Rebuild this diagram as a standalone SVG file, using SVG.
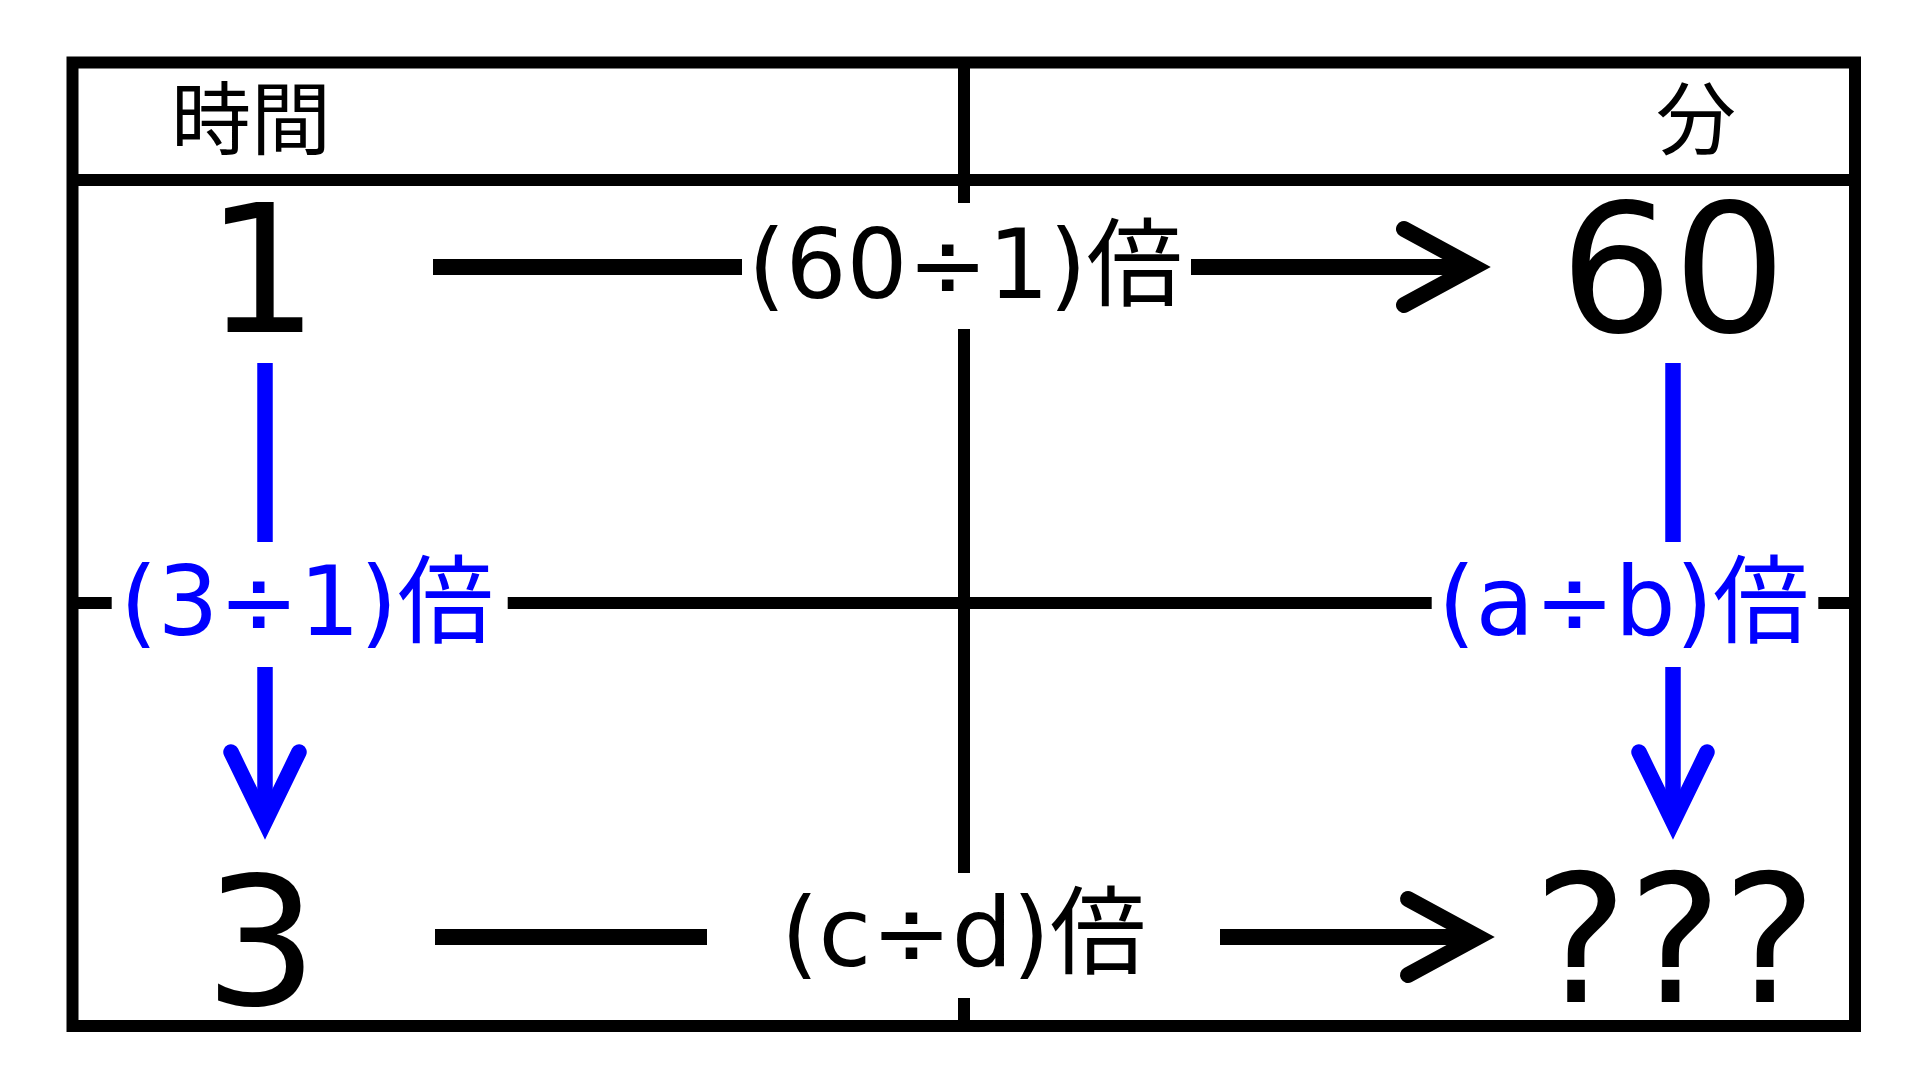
<svg xmlns="http://www.w3.org/2000/svg" width="1920" height="1080" viewBox="0 0 1920 1080">
<style>
.grid{stroke:#000;stroke-width:12;fill:none;stroke-linecap:butt}
.blk{stroke:#000;stroke-width:16;fill:none}
.blu{stroke:#0000FF;stroke-width:15.5;fill:none}
.head{stroke-linecap:round;stroke-linejoin:miter;stroke-miterlimit:10}
.t{font-family:"DejaVu Sans","Noto Sans CJK JP",sans-serif}
.cjk{font-family:"Noto Sans CJK JP","DejaVu Sans",sans-serif}
.big{font-size:178px;text-anchor:middle;fill:#000}
.lab{font-size:96px}
.hd{font-size:80px;fill:#000}
</style>
<rect width="1920" height="1080" fill="#fff"/>
<g id="table">
<rect class="grid" x="72.5" y="62.5" width="1782.5" height="963.5"/>
<line class="grid" x1="72.5" y1="180" x2="1855" y2="180"/>
<line class="grid" x1="964" y1="62.5" x2="964" y2="203"/>
<line class="grid" x1="964" y1="329" x2="964" y2="873"/>
<line class="grid" x1="964" y1="998" x2="964" y2="1026"/>
<line class="grid" x1="72.5" y1="603" x2="111.7" y2="603"/>
<line class="grid" x1="507.7" y1="603" x2="1431.7" y2="603"/>
<line class="grid" x1="1818.3" y1="603" x2="1855" y2="603"/>
</g>
<g id="header-time"><text class="cjk hd" x="171" y="148">時間</text></g>
<g id="header-min"><text class="cjk hd" x="1696" y="148" text-anchor="middle">分</text></g>
<g id="node-1"><text class="t big" x="262" y="332">1</text></g>
<g id="node-60"><text class="t big" x="1673" y="331">60</text></g>
<g id="node-3"><text class="t big" x="261" y="1004">3</text></g>
<g id="node-q"><text class="t big" x="1675" y="1002">???</text></g>
<g id="connectors">
<g id="edge-top">
<line class="blk" x1="433" y1="267" x2="742" y2="267"/>
<text class="t lab" x="748" y="298" fill="#000">(60÷1)倍</text>
<line class="blk" x1="1191" y1="267" x2="1470" y2="267"/>
<polyline class="blk head" points="1404,229 1474,267 1404,305"/>
</g>
<g id="edge-bottom">
<line class="blk" x1="435" y1="937" x2="707" y2="937"/>
<text class="t lab" x="781" y="966" fill="#000">(c÷d)倍</text>
<line class="blk" x1="1220" y1="937" x2="1474" y2="937"/>
<polyline class="blk head" points="1408,899 1478,937 1408,975"/>
</g>
<g id="edge-left">
<line class="blu" x1="265" y1="363" x2="265" y2="542"/>
<text class="t lab" x="120" y="635" fill="#0000FF">(3÷1)倍</text>
<line class="blu" x1="265" y1="667" x2="265" y2="818"/>
<polyline class="blu head" points="231,752 265,822 299,752"/>
</g>
<g id="edge-right">
<line class="blu" x1="1673" y1="363" x2="1673" y2="542"/>
<text class="t lab" x="1438" y="635" fill="#0000FF">(a÷b)倍</text>
<line class="blu" x1="1673" y1="667" x2="1673" y2="818"/>
<polyline class="blu head" points="1639,752 1673,822 1707,752"/>
</g>
</g>
</svg>
